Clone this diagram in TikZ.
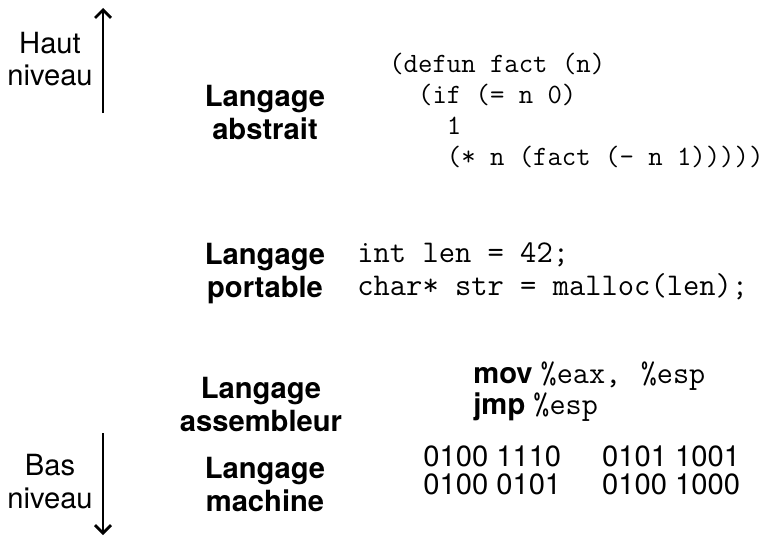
\documentclass[tikz,border=0pt]{standalone}
\usepackage{fontspec}
\setmainfont{TeX Gyre Heros}
\usetikzlibrary{arrows.meta, positioning}

\newcommand\labelfont{\fontsize{16.6pt}{18.7pt}\selectfont}
\newcommand\binfont{\fontsize{16.6pt}{15.3pt}\selectfont}
\newcommand\lispfont{\fontsize{15.9pt}{17.6pt}\selectfont\ttfamily}
\newcommand\cfont{\fontsize{18pt}{18.4pt}\selectfont\ttfamily}
\newcommand\reg[1]{{\fontsize{17.8pt}{15pt}\selectfont\ttfamily #1}}
\tikzset{
    level/.style={font=\labelfont\bfseries, align=center, inner sep=0pt, anchor=base},
    side/.style={font=\labelfont, align=center, inner sep=0pt, anchor=base},
    code/.style={align=left, inner sep=0pt, anchor=base west},
    updown/.style={line width=1.6pt, -{Straight Barb[length=1.6mm,width=3.2mm]}}
}

\begin{document}
\begin{tikzpicture}[x=0.02cm, y=-0.02cm]
    \useasboundingbox (0,0) rectangle (776,537);

    % high / low level side arrows
    \node[side] (haut) at (50,86) {Haut\\niveau};
    \node[side] (bas) at (50,508) {Bas\\niveau};
    \coordinate (haut top) at (103,8);
    \coordinate (haut foot) at (103,113);
    \coordinate (bas top) at (103,433);
    \coordinate (bas foot) at (103,535);
    \draw[updown] (haut foot) -- (haut top);
    \draw[updown] (bas top) -- (bas foot);

    % language levels (base = last line)
    \node[level] (abstrait) at (265,139) {Langage\\abstrait};
    \node[level] (portable) at (265,297) {Langage\\portable};
    \node[level] (assembleur) at (261,431) {Langage\\assembleur};
    \node[level] (machine) at (265,511) {Langage\\machine};

    % code samples
    \node[code, font=\lispfont] (lisp) at (389,165)
        {(defun fact (n)\\
         \hphantom{xx}(if (= n 0)\\
         \hphantom{xxxx}1\\
         \hphantom{xxxx}(* n (fact (- n 1)))))};
    \node[code, font=\cfont] (c) at (357,295)
        {int len = 42;\\
         char* str = malloc(len);};
    \node[code, font=\binfont] (asm) at (473,414)
        {\textbf{mov} \reg{\%eax,\ \kern2pt\%esp}\\
         \textbf{jmp} \reg{\%esp}};
    \node[code, font=\binfont] (bin) at (423,466)
        {\begin{tabular}[t]{@{}l@{\hskip 0.82cm}l@{}}
         0100 1110 & 0101 1001\\
         0100 0101 & 0100 1000
         \end{tabular}};
\end{tikzpicture}
\end{document}
